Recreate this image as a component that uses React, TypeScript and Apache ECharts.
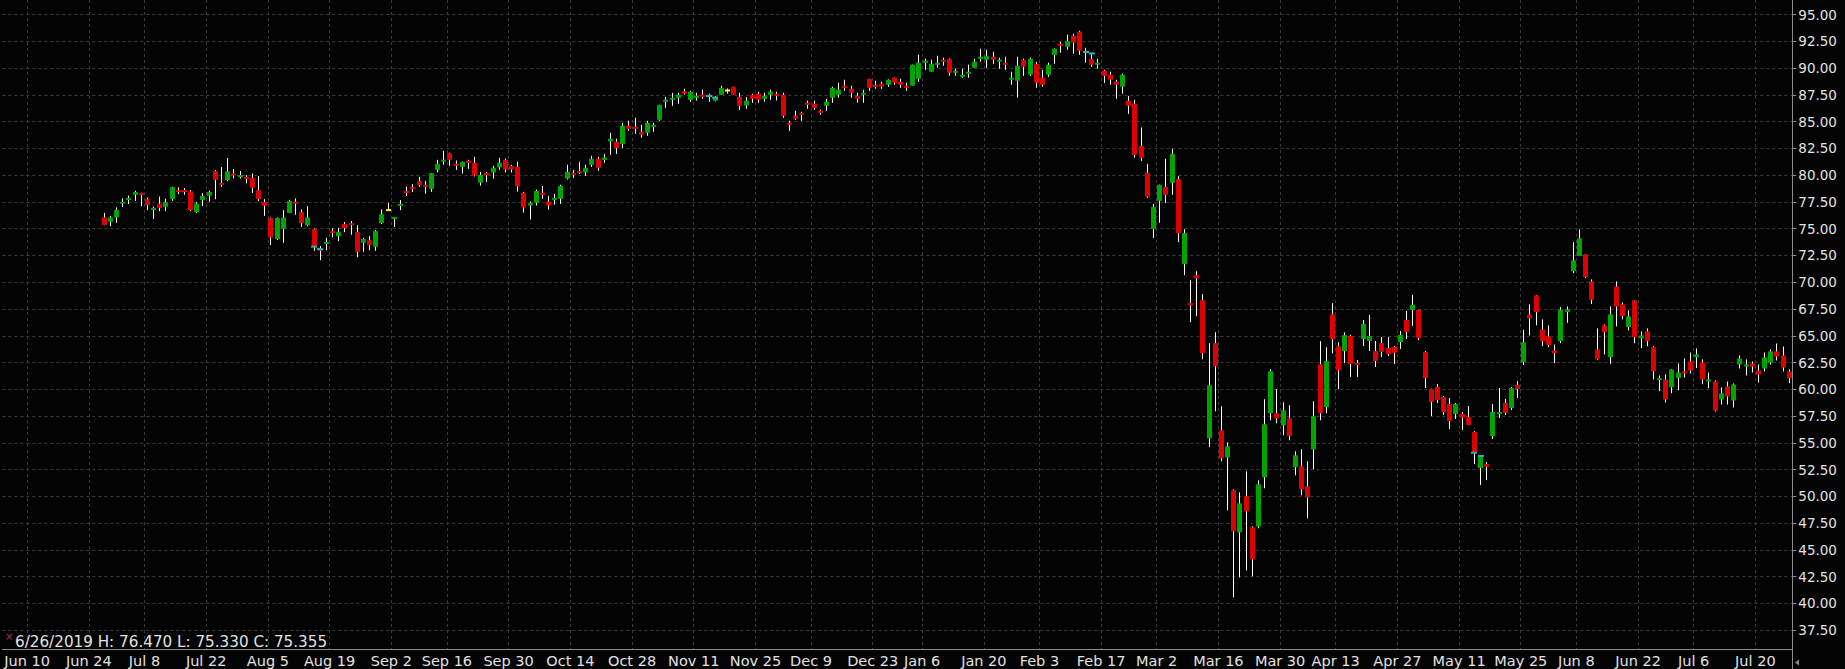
import React, { useEffect, useRef } from 'react';
import * as echarts from 'echarts';

// ---------- DATA ----------
const firstDay = '2019-06-04'; // first category on the time axis
const lastDay = '2020-07-27';
const firstDataDay = '2019-06-26';
const holidays = ['2019-07-04', '2019-09-02', '2019-11-28', '2019-12-25', '2020-01-01', '2020-01-20', '2020-02-17', '2020-04-10', '2020-05-25', '2020-07-03'];

const tickDates = ['2019-06-10', '2019-06-24', '2019-07-08', '2019-07-22', '2019-08-05', '2019-08-19', '2019-09-03', '2019-09-16', '2019-09-30', '2019-10-14', '2019-10-28', '2019-11-11', '2019-11-25', '2019-12-09', '2019-12-23', '2020-01-06', '2020-01-21', '2020-02-03', '2020-02-18', '2020-03-02', '2020-03-16', '2020-03-30', '2020-04-13', '2020-04-27', '2020-05-11', '2020-05-26', '2020-06-08', '2020-06-22', '2020-07-06', '2020-07-20'];
const tickLabels = ['Jun 10', 'Jun 24', 'Jul 8', 'Jul 22', 'Aug 5', 'Aug 19', 'Sep 2', 'Sep 16', 'Sep 30', 'Oct 14', 'Oct 28', 'Nov 11', 'Nov 25', 'Dec 9', 'Dec 23', 'Jan 6', 'Jan 20', 'Feb 3', 'Feb 17', 'Mar 2', 'Mar 16', 'Mar 30', 'Apr 13', 'Apr 27', 'May 11', 'May 25', 'Jun 8', 'Jun 22', 'Jul 6', 'Jul 20'];

const yTicks = [37.5, 40, 42.5, 45, 47.5, 50, 52.5, 55, 57.5, 60, 62.5, 65, 67.5, 70, 72.5, 75, 77.5, 80, 82.5, 85, 87.5, 90, 92.5, 95];

const open = [
  76.05, 75.65, 76.05, 77.33, 77.7, 78.17, 78.33, 77.76, 76.77, 77.33,
  77.05, 77.76, 78.61, 78.61, 78.48, 76.55, 77.67, 78.08, 80.38, 79.26,
  79.54, 80.13, 79.82, 79.82, 79.73, 78.61, 77.48, 75.99, 74.03, 74.99,
  76.46, 77.52, 76.55, 75.33, 74.96, 73.12, 73.56, 74.77, 74.31, 75.43,
  75.52, 74.68, 73.68, 73.93, 73.31, 75.52, 76.74, 75.93, 77.14, 78.51,
  78.89, 79.45, 79.1, 78.72, 80.5, 81.28, 82.06, 81.06, 80.78, 81.34,
  81.15, 79.31, 80.22, 80.25, 80.72, 81.43, 80.87, 80.78, 78.35, 77.17,
  77.41, 78.35, 77.51, 77.7, 77.79, 79.69, 80.22, 80.4, 80.25, 80.97,
  81.53, 81.43, 83.15, 83.12, 82.93, 84.61, 84.52, 84.05, 83.96, 84.52,
  85.17, 86.85, 87.04, 87.23, 87.82, 87.04, 87.23, 87.51, 87.45, 86.95,
  87.51, 87.91, 88.26, 87.32, 86.51, 87.51, 87.6, 87.13, 87.51, 87.6,
  87.51, 84.89, 85.55, 85.83, 86.76, 86.67, 86.01, 86.48, 87.23, 87.51,
  88.35, 88.07, 87.41, 87.51, 89.0, 88.44, 88.54, 88.44, 89.1, 88.72,
  88.35, 88.35, 89.0, 90.5, 89.66, 90.31, 90.78, 90.87, 89.56, 89.19,
  89.47, 90.03, 90.87, 90.78, 91.06, 90.59, 90.5, 88.91, 88.82, 90.78,
  89.38, 90.4, 89.1, 89.38, 91.25, 92.27, 91.99, 93.02, 93.4, 91.6,
  90.87, 90.31, 89.75, 89.38, 88.72, 88.26, 86.95, 86.67, 82.74, 80.22,
  74.98, 77.6, 78.91, 79.28, 79.63, 71.69, 68.05, 70.66, 68.33, 55.43,
  64.31, 56.18, 53.65, 50.57, 46.64, 50.01, 47.11, 47.2, 51.78, 57.77,
  57.77, 56.64, 57.3, 52.72, 52.81, 50.94, 54.4, 62.34, 58.33, 67.02,
  64.03, 63.56, 64.98, 62.46, 64.7, 64.52, 63.58, 64.33, 63.86, 63.96,
  64.42, 66.48, 67.41, 67.41, 63.49, 60.03, 60.22, 59.28, 58.63, 57.7,
  57.7, 57.41, 56.01, 52.65, 53.02, 55.64, 57.7, 58.72, 58.26, 60.41,
  62.54, 66.99, 68.77, 65.59, 64.94, 63.63, 64.5, 67.21, 71.04, 72.45,
  72.6, 70.08, 63.72, 65.97, 63.01, 69.61, 67.93, 65.81, 68.3, 64.78,
  65.41, 63.94, 60.86, 60.92, 60.2, 61.07, 61.67, 62.6, 63.01, 62.51,
  60.73, 60.73, 59.05, 60.27, 58.96, 62.32, 62.13, 62.41, 61.76, 61.95,
  62.51, 63.54, 63.16, 61.67,
];

const close = [
  75.355, 76.05, 76.74, 77.52, 77.86, 78.42, 78.17, 77.2, 76.92, 76.95,
  77.48, 78.89, 78.42, 78.42, 76.74, 77.36, 78.05, 78.42, 79.57, 79.1,
  80.35, 79.98, 80.0, 79.67, 78.82, 77.76, 77.14, 74.18, 75.99, 76.05,
  77.58, 77.33, 75.52, 76.05, 73.31, 72.94, 73.75, 74.59, 74.68, 75.05,
  75.33, 72.84, 74.03, 73.47, 74.77, 76.36, 76.74, 76.08, 77.3, 78.33,
  78.7, 79.07, 78.92, 80.19, 81.06, 81.43, 81.43, 80.9, 81.25, 81.15,
  79.97, 80.03, 80.0, 80.69, 81.15, 80.53, 80.53, 78.94, 76.98, 77.41,
  78.54, 78.16, 77.17, 77.88, 79.0, 80.31, 80.03, 80.22, 80.69, 81.53,
  80.69, 81.65, 83.4, 82.55, 84.61, 84.33, 84.33, 83.77, 84.89, 84.7,
  86.57, 87.04, 87.23, 87.51, 87.6, 87.79, 87.41, 87.32, 87.38, 87.35,
  88.16, 87.91, 87.51, 86.48, 86.95, 87.13, 87.04, 87.41, 87.79, 87.41,
  85.55, 84.7, 85.26, 85.64, 86.57, 86.29, 85.83, 86.85, 88.16, 87.98,
  88.16, 87.69, 87.13, 87.69, 88.16, 88.26, 88.26, 88.91, 88.63, 88.44,
  88.16, 90.31, 90.5, 90.69, 90.4, 90.5, 90.59, 89.56, 89.75, 89.38,
  89.66, 90.59, 91.06, 91.15, 90.78, 90.78, 90.31, 89.1, 90.22, 90.12,
  90.87, 88.63, 88.44, 90.31, 91.81, 92.09, 92.55, 92.37, 91.62, 91.45,
  90.31, 90.5, 89.28, 88.91, 88.44, 89.38, 86.48, 81.9, 81.62, 77.98,
  77.04, 79.1, 78.16, 81.99, 74.59, 74.59, 67.86, 70.38, 63.37, 60.38,
  62.16, 53.56, 54.68, 46.74, 49.35, 48.61, 44.12, 51.13, 56.74, 61.69,
  57.3, 58.05, 55.62, 53.84, 50.66, 49.91, 57.48, 57.77, 62.63, 64.68,
  61.78, 65.06, 62.37, 62.27, 66.11, 64.98, 62.65, 63.49, 63.3, 63.4,
  65.08, 65.36, 67.88, 64.8, 61.06, 58.82, 59.0, 57.88, 57.04, 58.63,
  57.35, 56.67, 54.14, 53.77, 52.77, 57.88, 57.88, 57.79, 60.12, 60.03,
  64.38, 66.65, 67.21, 64.5, 64.13, 63.38, 67.43, 67.46, 72.04, 74.1,
  70.48, 68.36, 62.79, 65.34, 67.0, 67.74, 66.84, 66.81, 64.88, 65.03,
  64.5, 61.7, 61.04, 59.05, 61.85, 61.57, 61.48, 61.76, 63.26, 60.92,
  60.92, 58.02, 59.61, 59.33, 60.45, 62.88, 62.32, 62.13, 61.39, 62.98,
  63.54, 63.07, 62.04, 61.04,
];

const low = [
  75.33, 75.24, 75.55, 77.02, 77.3, 77.6, 77.11, 76.74, 75.9, 76.64,
  76.64, 77.6, 78.23, 78.17, 76.64, 76.46, 77.11, 77.52, 77.76, 78.92,
  79.45, 79.7, 79.7, 79.23, 78.33, 77.58, 76.2, 73.47, 73.95, 73.68,
  76.46, 76.3, 75.15, 75.24, 72.94, 72.06, 72.99, 74.21, 73.84, 74.68,
  74.43, 72.34, 72.84, 72.99, 72.94, 75.43, 76.7, 75.15, 76.74, 78.05,
  78.42, 78.92, 78.26, 78.44, 80.25, 80.97, 80.87, 80.5, 80.16, 80.59,
  79.88, 79.03, 79.37, 79.69, 80.5, 80.25, 80.25, 78.47, 76.51, 75.86,
  77.17, 77.8, 76.79, 77.26, 77.32, 79.6, 79.75, 80.12, 79.94, 80.78,
  80.4, 81.15, 81.9, 81.99, 82.55, 84.14, 83.86, 83.49, 83.68, 84.05,
  85.08, 86.29, 86.48, 86.67, 87.51, 86.85, 86.95, 87.13, 86.85, 86.9,
  87.51, 87.63, 87.51, 86.1, 86.2, 86.76, 86.76, 86.85, 87.04, 86.98,
  85.36, 84.14, 85.17, 85.08, 86.2, 86.11, 85.64, 86.01, 86.76, 87.23,
  87.88, 87.23, 86.76, 86.76, 87.88, 88.07, 88.07, 88.26, 88.44, 88.16,
  87.88, 88.35, 88.72, 89.84, 89.66, 90.03, 90.22, 89.28, 89.28, 89.1,
  89.1, 90.03, 90.59, 90.03, 90.4, 89.94, 89.84, 88.44, 87.23, 89.28,
  89.28, 88.16, 88.26, 89.19, 90.4, 91.43, 91.71, 91.34, 91.25, 90.5,
  90.12, 89.94, 88.63, 88.44, 87.13, 87.6, 85.73, 81.62, 81.34, 77.88,
  74.14, 75.55, 77.41, 78.16, 73.75, 70.66, 66.27, 66.83, 62.81, 54.59,
  57.95, 53.28, 48.7, 40.57, 42.44, 43.09, 42.53, 47.02, 50.76, 57.11,
  56.83, 55.71, 55.24, 51.97, 50.1, 47.95, 52.53, 57.11, 57.77, 63.37,
  60.01, 62.44, 61.15, 61.15, 64.05, 63.58, 62.09, 63.02, 63.12, 62.37,
  63.77, 64.7, 65.92, 64.61, 60.12, 57.51, 58.72, 57.6, 56.29, 57.23,
  56.2, 56.65, 53.02, 51.06, 51.53, 55.36, 57.32, 57.6, 58.07, 59.19,
  62.27, 65.03, 65.97, 64.03, 63.94, 62.45, 64.31, 66.21, 70.86, 72.45,
  70.39, 67.96, 62.73, 63.26, 62.35, 65.87, 66.53, 65.5, 64.31, 63.85,
  64.03, 60.92, 59.83, 58.77, 59.64, 59.92, 61.11, 61.48, 61.98, 60.48,
  60.11, 57.93, 58.58, 58.58, 58.3, 61.95, 61.29, 61.57, 60.64, 61.67,
  62.32, 62.7, 61.67, 60.58,
];

const high = [
  76.47, 76.18, 76.99, 77.83, 78.1, 78.54, 78.36, 77.89, 77.05, 78.0,
  77.8, 78.92, 78.86, 78.8, 78.61, 77.48, 78.33, 78.54, 80.47, 80.76,
  81.6, 80.57, 80.38, 80.0, 80.16, 79.91, 77.76, 76.05, 76.05, 76.74,
  77.67, 77.83, 76.8, 77.11, 75.02, 73.37, 74.15, 75.05, 75.08, 75.62,
  75.71, 75.33, 74.15, 74.31, 74.87, 76.8, 77.42, 76.1, 77.67, 78.92,
  79.17, 79.85, 79.47, 80.2, 81.43, 82.27, 82.1, 81.37, 81.28, 81.43,
  81.71, 80.31, 80.31, 80.87, 81.62, 81.53, 80.97, 81.25, 78.44, 77.54,
  78.66, 79.0, 78.07, 78.26, 79.1, 80.97, 80.5, 81.25, 80.97, 81.81,
  81.71, 81.99, 83.96, 83.4, 84.89, 85.08, 85.36, 84.7, 85.08, 84.89,
  86.57, 87.32, 87.69, 87.69, 88.07, 87.88, 87.69, 87.98, 87.6, 87.4,
  88.35, 88.1, 88.26, 87.69, 87.29, 87.6, 87.79, 87.69, 87.98, 87.79,
  87.7, 85.08, 86.01, 85.92, 86.95, 86.95, 86.11, 87.13, 88.26, 88.63,
  88.91, 88.35, 87.69, 87.98, 89.0, 88.82, 88.72, 88.95, 89.12, 89.0,
  88.63, 90.33, 91.25, 90.87, 90.78, 91.15, 90.97, 90.9, 89.94, 89.94,
  90.31, 90.87, 91.81, 91.71, 91.53, 90.97, 91.06, 89.66, 91.06, 90.87,
  90.97, 90.59, 89.84, 90.5, 91.83, 92.46, 93.12, 93.21, 93.49, 91.9,
  91.43, 90.87, 89.84, 89.66, 88.91, 89.47, 87.41, 87.04, 84.45, 81.06,
  77.32, 79.12, 81.53, 82.46, 79.91, 74.96, 70.2, 71.04, 68.89, 64.31,
  65.33, 58.42, 55.05, 50.66, 50.38, 52.34, 47.2, 51.5, 59.07, 61.88,
  60.01, 58.79, 58.51, 54.21, 54.4, 53.28, 58.89, 64.5, 63.93, 68.05,
  64.4, 65.33, 65.08, 62.74, 66.48, 66.95, 64.52, 64.89, 64.89, 64.05,
  65.45, 67.32, 68.82, 67.45, 63.58, 60.05, 60.5, 59.38, 59.19, 58.72,
  57.88, 58.44, 56.1, 53.8, 53.21, 58.63, 60.12, 59.1, 60.22, 60.78,
  65.55, 67.93, 68.8, 66.53, 65.97, 64.19, 67.68, 67.74, 73.75, 74.94,
  72.62, 70.26, 65.69, 66.06, 67.74, 70.08, 68.12, 67.37, 68.32, 65.41,
  65.69, 64.03, 61.29, 61.39, 61.87, 62.41, 62.88, 63.44, 63.82, 62.79,
  61.57, 60.83, 60.17, 60.73, 60.55, 63.16, 62.79, 62.6, 62.32, 63.44,
  63.72, 64.28, 64.0, 61.85,
];

// cyan markers, by candle index and price level
const markIdx = [34, 35, 98, 99, 159, 160, 222, 223];
const markLevel = [73.33, 73.1, 87.39, 87.23, 91.51, 91.37, 54.08, 53.78];

// ---------- STYLE ----------
const BG = '#030303';
const UP = '#00a400';
const DOWN = '#dc0000';
const DOJI = '#ffff00';
const WICK = '#ffffff';
const MARK = '#22b4b4';
const GRID = '#3a3a3a';
const AXIS = '#8c8c8c';
const TXT = '#e2e2e2';
const FONT = 'DejaVu Sans';

function isoDay(d: Date) {
  return d.toISOString().slice(0, 10);
}

function buildDays(start: string, end: string) {
  const out: string[] = [];
  const d = new Date(start + 'T00:00:00Z');
  const e = new Date(end + 'T00:00:00Z');
  while (d <= e) {
    const wd = d.getUTCDay();
    const s = isoDay(d);
    if (wd !== 0 && wd !== 6 && holidays.indexOf(s) < 0) out.push(s);
    d.setUTCDate(d.getUTCDate() + 1);
  }
  return out;
}

export default function App() {
  const ref = useRef<HTMLDivElement>(null);

  useEffect(() => {
    document.body.style.margin = '0';
    document.body.style.background = BG;
    const days = buildDays(firstDay, lastDay);
    const offset = days.indexOf(firstDataDay);
    const tickSet = new Set(tickDates);
    const labelMap: Record<string, string> = {};
    tickDates.forEach((d, i) => (labelMap[d] = tickLabels[i]));

    const candles = open.map((o, i) => [i + offset, o, close[i], low[i], high[i]]);
    const marks = markIdx.map((k, i) => [k + offset, markLevel[i]]);

    const fd = new Date(firstDataDay + 'T00:00:00Z');
    const footer = `${fd.getUTCMonth() + 1}/${fd.getUTCDate()}/${fd.getUTCFullYear()} H: ${high[0].toFixed(3)} L: ${low[0].toFixed(3)} C: ${close[0].toFixed(3)}`;

    const chart = echarts.init(ref.current!, null, { renderer: 'svg' });
    chart.setOption({
      animation: false,
      backgroundColor: BG,
      grid: { left: 2.4, right: 52.7, top: 0, bottom: 19.7, containLabel: false },
      xAxis: {
        type: 'category',
        data: days,
        boundaryGap: true,
        axisLine: { show: true, lineStyle: { color: AXIS, width: 1 } },
        axisTick: { show: false, interval: (i: number, v: string) => tickSet.has(v) },
        axisLabel: {
          interval: (i: number, v: string) => tickSet.has(v),
          formatter: (v: string) => labelMap[v] || '',
          color: TXT,
          fontFamily: FONT,
          fontSize: 14.5,
          margin: 4,
          padding: [0, 6, 0, 0],
        },
        splitLine: {
          show: true,
          interval: (i: number, v: string) => tickSet.has(v),
          lineStyle: { color: GRID, type: [3, 3], width: 1 },
        },
      },
      yAxis: {
        type: 'value',
        position: 'right',
        min: 35.72,
        max: 96.36,
        axisLine: { show: true, lineStyle: { color: AXIS, width: 1 } },
        axisTick: { show: true, length: 4, lineStyle: { color: AXIS }, customValues: yTicks },
        axisLabel: {
          customValues: yTicks,
          formatter: (v: number) => v.toFixed(2),
          color: TXT,
          fontFamily: FONT,
          fontSize: 13.5,
          margin: 6,
        },
        splitLine: { show: true, lineStyle: { color: GRID, type: [3, 3], width: 1 } },
      },
      series: [
        {
          type: 'custom',
          data: candles,
          encode: { x: 0, y: [1, 2, 3, 4] },
          renderItem: (params: any, api: any) => {
            const x = api.value(0);
            const o = api.value(1);
            const c = api.value(2);
            const l = api.value(3);
            const h = api.value(4);
            const pO = api.coord([x, o]);
            const yC = api.coord([x, c])[1];
            const yL = api.coord([x, l])[1];
            const yH = api.coord([x, h])[1];
            const cx = pO[0];
            const wx = Math.floor(cx) + 0.5;
            let top = Math.min(pO[1], yC);
            let bot = Math.max(pO[1], yC);
            if (bot - top < 2) {
              const m = (top + bot) / 2;
              top = m - 1;
              bot = m + 1;
            }
            const left = Math.round(cx - 2.5);
            const color = c > o ? UP : c < o ? DOWN : DOJI;
            return {
              type: 'group',
              children: [
                { type: 'line', shape: { x1: wx, y1: yH, x2: wx, y2: yL }, style: { stroke: WICK, lineWidth: 1 } },
                { type: 'rect', shape: { x: left, y: top, width: 5, height: bot - top }, style: { fill: color } },
              ],
            };
          },
          z: 3,
        },
        {
          type: 'custom',
          data: marks,
          encode: { x: 0, y: 1 },
          renderItem: (params: any, api: any) => {
            const p = api.coord([api.value(0), api.value(1)]);
            return {
              type: 'rect',
              shape: { x: Math.round(p[0] - 3), y: p[1] - 1, width: 6, height: 2 },
              style: { fill: MARK },
            };
          },
          z: 4,
        },
      ],
      graphic: [
        { type: 'text', left: 5, top: 631, style: { text: '×', fill: '#b23a3a', font: `10px ${FONT}` }, z: 10 },
        { type: 'text', left: 15, top: 634, style: { text: footer, fill: TXT, font: `15.2px ${FONT}` }, z: 10 },
        { type: 'line', shape: { x1: 1792.5, y1: 649, x2: 1792.5, y2: 669 }, style: { stroke: AXIS, lineWidth: 1 }, z: 10 },
        { type: 'polygon', shape: { points: [[1795, 662.5], [1799, 659.5], [1799, 665.5]] }, style: { fill: '#8a8a8a' }, z: 10 },
      ],
    });
    return () => chart.dispose();
  }, []);

  return <div ref={ref} style={{ position: 'fixed', left: 0, top: 0, width: 1845, height: 669 }} />;
}
